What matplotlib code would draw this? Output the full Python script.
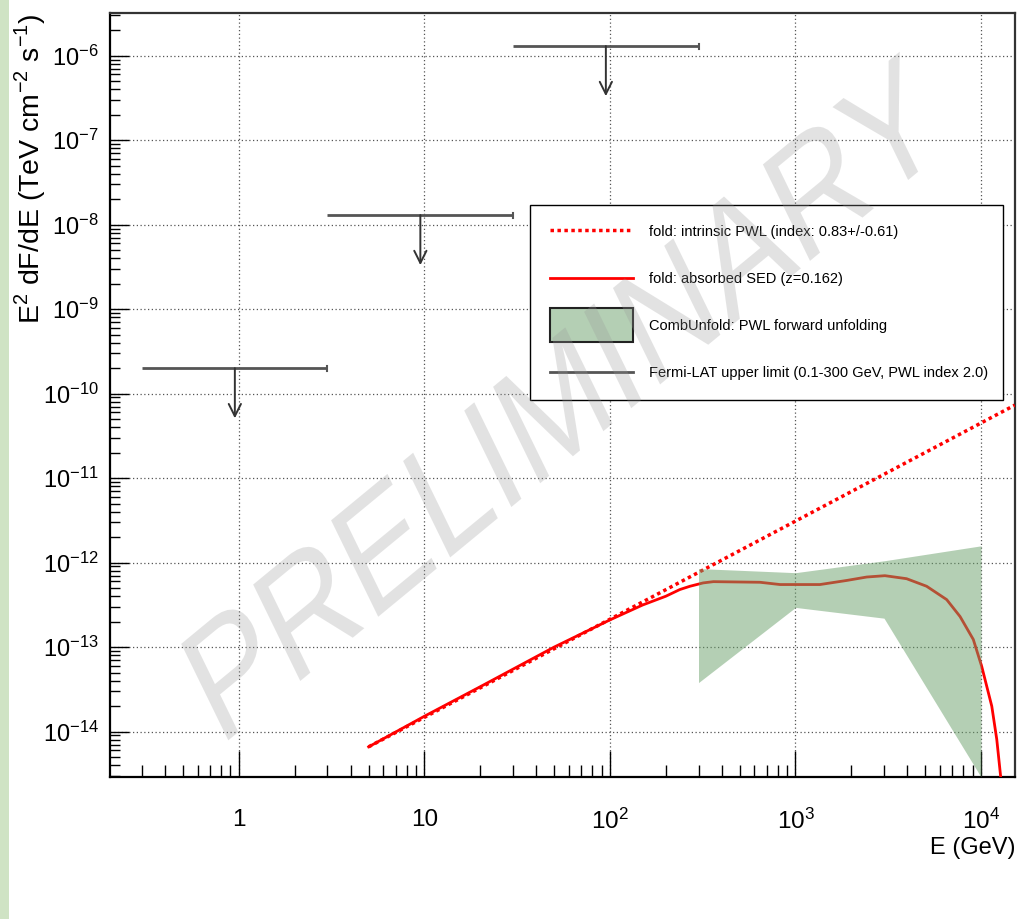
import numpy as np
import matplotlib
matplotlib.use("Agg")
import matplotlib.pyplot as plt
from matplotlib.patches import Patch, PathPatch, Rectangle
from matplotlib.lines import Line2D
from matplotlib.legend_handler import HandlerPatch
from matplotlib.textpath import TextPath
from matplotlib.font_manager import FontProperties
from matplotlib.transforms import Affine2D, IdentityTransform
from matplotlib.ticker import LogLocator, FixedLocator, FuncFormatter, NullFormatter

# --- data ---
# intrinsic power law (straight line in log-log)
pwl_e = [5.0, 15200.0]
pwl_f = [6.6e-15, 7.3e-11]

# absorbed SED
sed_e = [5.0, 10.0, 20.0, 50.0, 100.0, 150.0, 200.0, 238.0, 270.0, 318.0, 361.0,
         644.0, 825.0, 1355.0, 1890.0, 2420.0, 3035.0, 3970.0, 5090.0, 6530.0,
         7710.0, 9090.0, 10090.0, 11430.0, 12160.0, 12760.0, 13100.0]
sed_f = [6.6e-15, 1.52e-14, 3.4e-14, 1.0e-13, 2.1e-13, 3.15e-13, 4.0e-13, 4.8e-13,
         5.25e-13, 5.75e-13, 5.95e-13, 5.85e-13, 5.5e-13, 5.5e-13, 6.15e-13,
         6.75e-13, 7.0e-13, 6.45e-13, 5.25e-13, 3.65e-13, 2.3e-13, 1.23e-13,
         5.9e-14, 2.0e-14, 8.1e-15, 2.95e-15, 1.5e-15]

# CombUnfold band
band_e = [300.0, 1000.0, 3000.0, 10000.0]
band_hi = [8.5e-13, 7.6e-13, 1.05e-12, 1.58e-12]
band_lo = [3.8e-14, 2.95e-13, 2.2e-13, 2.9e-15]

# Fermi-LAT upper limits
ul_lo = [0.3, 3.0, 30.0]
ul_hi = [3.0, 30.0, 300.0]
ul_e = [0.95, 9.5, 95.0]
ul_f = [2.0e-10, 1.3e-8, 1.3e-6]

labels = ["fold: intrinsic PWL (index: 0.83+/-0.61)",
          "fold: absorbed SED (z=0.162)",
          "CombUnfold: PWL forward unfolding",
          "Fermi-LAT upper limit (0.1-300 GeV, PWL index 2.0)"]

plt.rcParams["font.family"] = ["Liberation Sans", "DejaVu Sans"]
plt.rcParams["mathtext.fontset"] = "custom"
plt.rcParams["mathtext.rm"] = "Liberation Sans"

green = "#6aa06a"
ulcol = "#555555"


def tall_box(legend, orig_handle, xdescent, ydescent, width, height, fontsize):
    # box centred on the line position, about 34 px tall
    yc = (height - ydescent) / 2.0
    h = 24.5
    return Rectangle((-xdescent, yc - h / 2), width, h)


fig = plt.figure(figsize=(10.28, 9.19), dpi=100)
fig.patches.append(Rectangle((0, 0), 9 / 1028, 1, transform=fig.transFigure,
                             facecolor="#cfe3c4", edgecolor="none", zorder=0))
ax = fig.add_axes([110 / 1028, 1 - 777 / 919, 905 / 1028, 764 / 919])
ax.set_xscale("log")
ax.set_yscale("log")
ax.set_xlim(0.2017, 15250)
ax.set_ylim(2.9e-15, 3.2e-6)

# lines
ax.plot(pwl_e, pwl_f, color="red", lw=2.5, ls=(0, (1, 1)), zorder=3)
ax.plot(sed_e, sed_f, color="red", lw=2.0, zorder=3)
ax.fill_between(band_e, band_lo, band_hi, color=green, alpha=0.5, lw=0, zorder=4)

# upper limits
for lo, hi, e, f in zip(ul_lo, ul_hi, ul_e, ul_f):
    ax.plot([lo, hi], [f, f], color=ulcol, lw=2.0, solid_capstyle="butt", zorder=3)
    ax.plot([hi, hi], [f * 0.93, f * 1.07], color=ulcol, lw=1.5, zorder=3)
    ax.annotate("", xy=(e, f * 0.255), xytext=(e, f),
                arrowprops=dict(arrowstyle="->", color="#333333", lw=1.4,
                                mutation_scale=22, shrinkA=0, shrinkB=0), zorder=3)

# grid + ticks
ax.grid(True, which="major", ls=(0, (1, 2)), color="#555555", lw=0.9)
ax.xaxis.set_major_locator(FixedLocator([1, 10, 100, 1000, 10000]))
ax.xaxis.set_minor_locator(LogLocator(base=10, subs=np.arange(2, 10), numticks=100))
ax.xaxis.set_major_formatter(FuncFormatter(
    lambda v, p: "1" if v == 1 else ("10" if v == 10 else r"$\mathdefault{10^{%d}}$" % round(np.log10(v)))))
ax.xaxis.set_minor_formatter(NullFormatter())
ax.yaxis.set_major_locator(LogLocator(base=10, numticks=100))
ax.yaxis.set_minor_locator(LogLocator(base=10, subs=np.arange(2, 10), numticks=100))
ax.yaxis.set_minor_formatter(NullFormatter())
ax.tick_params(axis="x", which="major", direction="in", length=19, width=1.0, labelsize=17.5, pad=23)
ax.tick_params(axis="x", which="minor", direction="in", length=9, width=1.0)
ax.tick_params(axis="y", which="major", direction="in", length=14, width=1.0, labelsize=17, pad=8)
ax.tick_params(axis="y", which="minor", direction="in", length=7, width=1.0)
for s in ax.spines.values():
    s.set_linewidth(1.6)
    s.set_color("#333333")
ax.spines["left"].set_color("black")
ax.spines["bottom"].set_color("black")

fig.text(30 / 1028, 1 - 14 / 919, r"E$^{2}$ dF/dE (TeV cm$^{-2}$ s$^{-1}$)",
         rotation=90, ha="center", va="top", fontsize=20.5)
fig.text(1015 / 1028, 1 - 848 / 919, "E (GeV)", ha="right", va="center", fontsize=17)

# legend
handles = [Line2D([], [], color="red", lw=2.5, ls=(0, (1, 1))),
           Line2D([], [], color="red", lw=2.0),
           Patch(facecolor="#b4cfb4", edgecolor="#222222", lw=1.5),
           Line2D([], [], color=ulcol, lw=2.0)]
leg = ax.legend(handles, labels, loc="upper left", mode="expand",
                bbox_to_anchor=((530 - 110) / 905, 0, (1003 - 530) / 905, (777 - 205) / 764),
                borderaxespad=0, fontsize=10.5, handlelength=5.7, handleheight=0.75,
                labelspacing=2.27, borderpad=1.35, handletextpad=1.1,
                fancybox=False, framealpha=1, edgecolor="black",
                handler_map={Patch: HandlerPatch(patch_func=tall_box)})
leg.get_frame().set_linewidth(1.0)
leg.set_zorder(5)

# PRELIMINARY watermark (horizontally squeezed like the picture)
tp = TextPath((0, 0), "PRELIMINARY", size=166, prop=FontProperties(family="Liberation Sans"))
bb = tp.get_extents()
tr = (Affine2D().translate(-(bb.x0 + bb.x1) / 2, -(bb.y0 + bb.y1) / 2)
      .rotate_deg(32.4).scale(0.77, 1.0).translate(564, 919 - 396))
wm = PathPatch(tp, transform=tr + IdentityTransform(), facecolor="#9a9a9a",
               edgecolor="none", alpha=0.28, zorder=10)
fig.patches.append(wm)

fig.savefig("out.png", dpi=100)
